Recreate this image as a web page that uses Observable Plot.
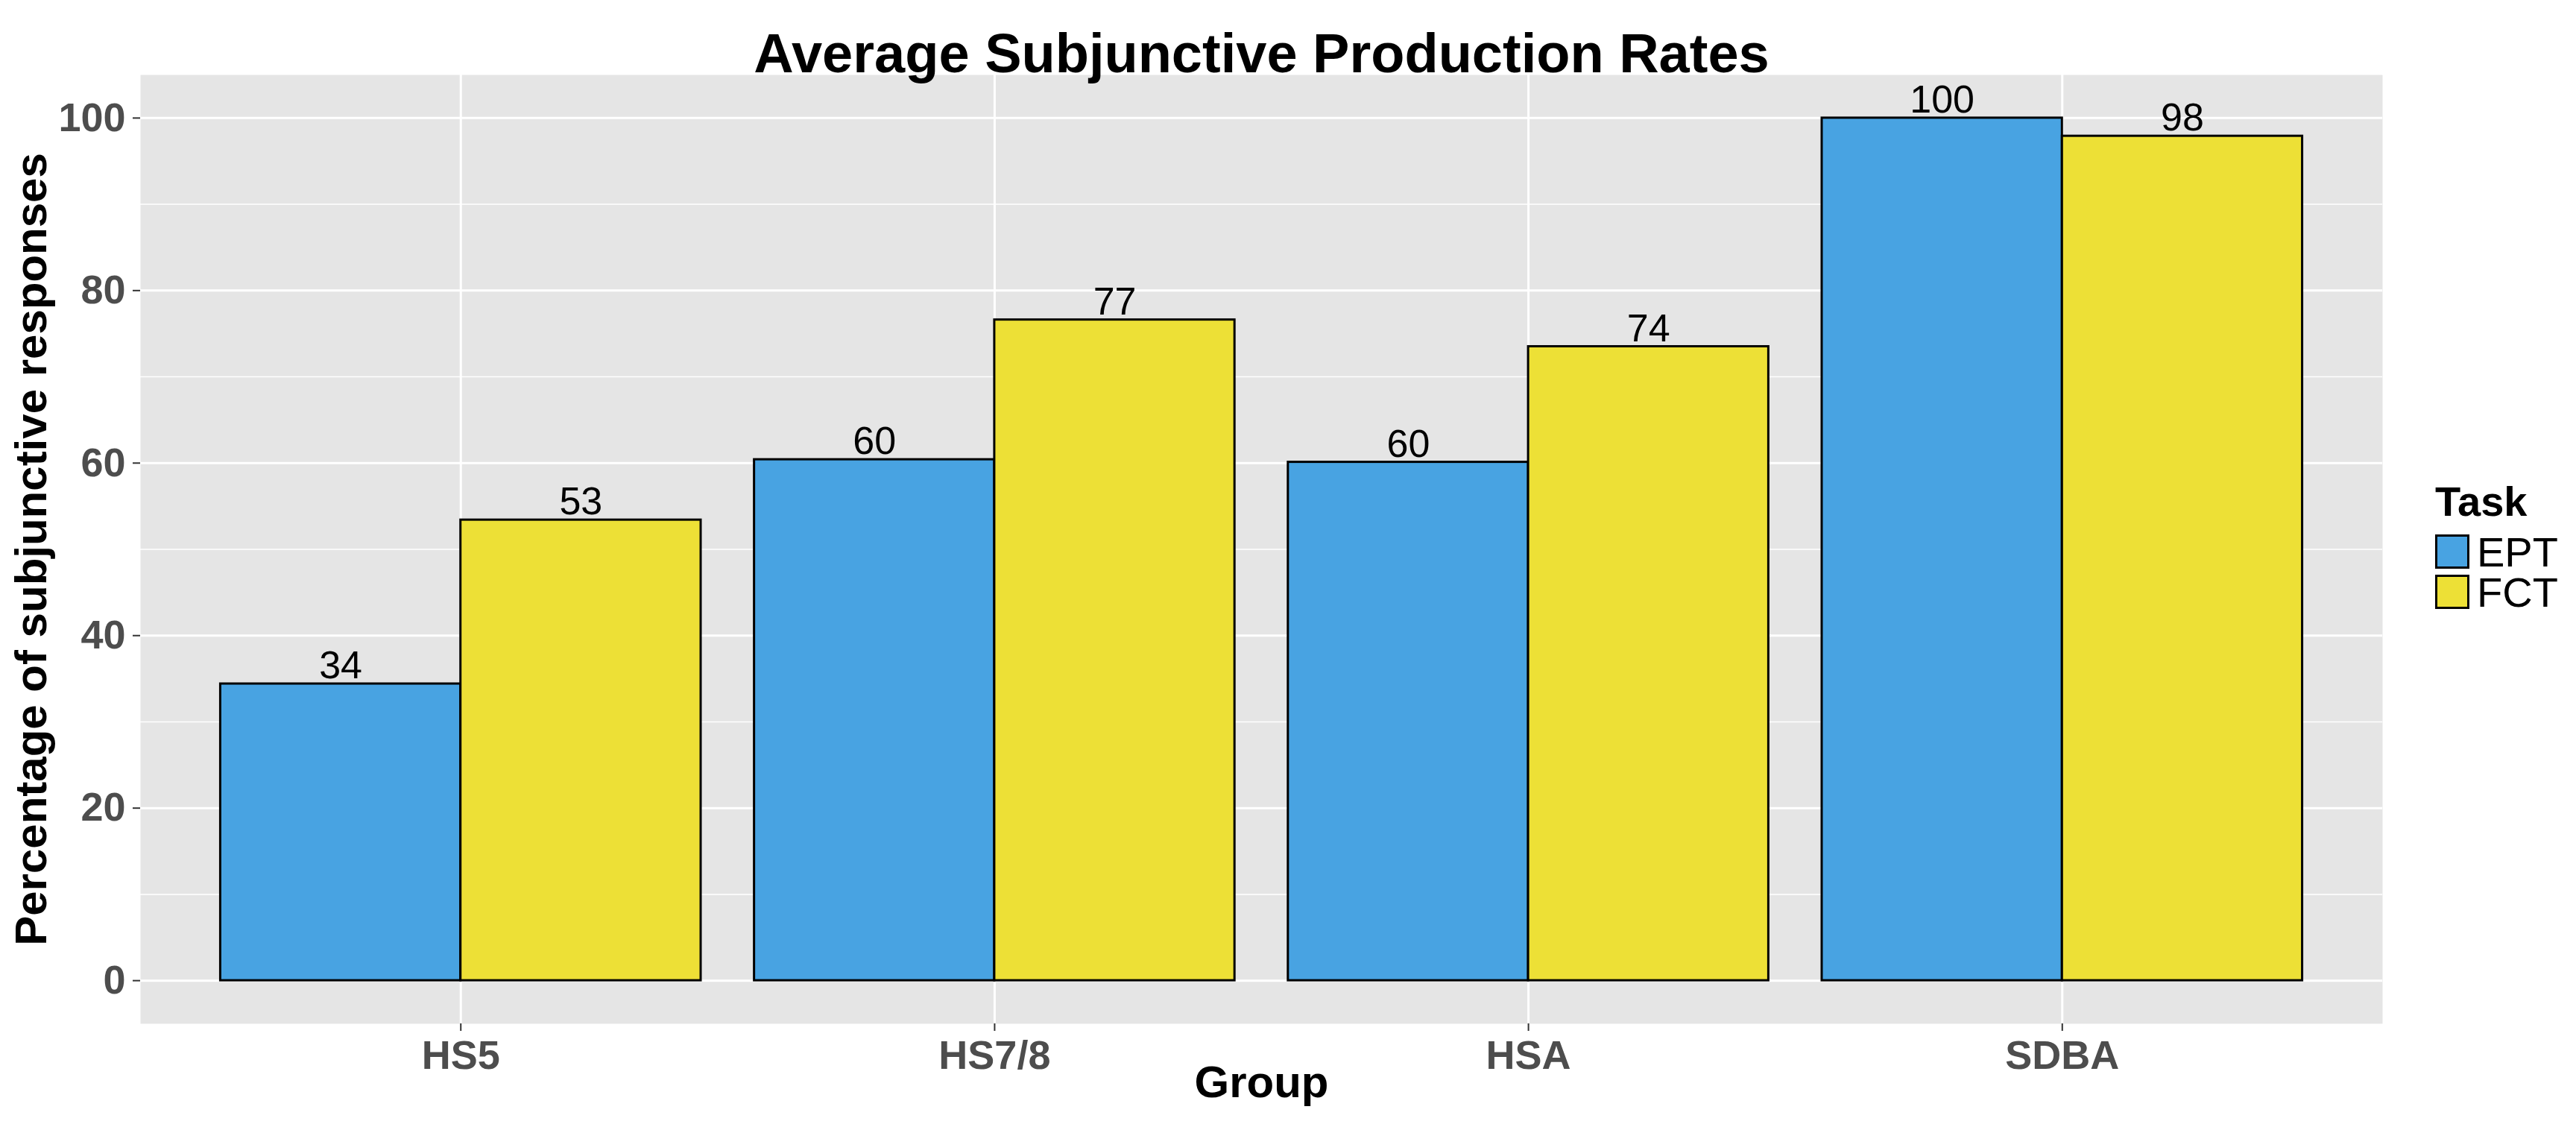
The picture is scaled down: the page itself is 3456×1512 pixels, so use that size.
<!DOCTYPE html>
<html>
<head>
<meta charset="utf-8">
<script src="https://cdn.jsdelivr.net/npm/d3@7"></script>
<script src="https://cdn.jsdelivr.net/npm/@observablehq/plot@0.6"></script>
<style>
  body { margin: 0; background: #fff; font-family: "Liberation Sans", Arial, sans-serif; }
  #wrap { position: relative; width: 3456px; height: 1512px; }
  #legend { position: absolute; left: 3267px; top: 640px; font-size: 56px; }
  #legend .t { font-weight: bold; margin-bottom: 8px; }
  #legend .row { display: flex; align-items: center; height: 54px; }
  #legend .sw { width: 46px; height: 46px; border: 3px solid #000; box-sizing: border-box; margin-right: 10px; }
</style>
</head>
<body>
<div id="wrap">
  <div id="chart"></div>
  <div id="legend"></div>
</div>
<script>
const groups = ["HS5", "HS7/8", "HSA", "SDBA"];
const tasks = ["EPT", "FCT"];
const ept = [34.4, 60.4, 60.1, 100];
const fct = [53.4, 76.6, 73.5, 97.9];
const colors = ["#48a3e2", "#ede036"];

const rows = [];
groups.forEach((g, i) => {
  rows.push({group: g, task: "EPT", value: ept[i], x1: i + 1 - 0.45, x2: i + 1});
  rows.push({group: g, task: "FCT", value: fct[i], x1: i + 1, x2: i + 1.45});
});

const chart = Plot.plot({
  width: 3456,
  height: 1512,
  marginTop: 100,
  marginBottom: 139,
  marginLeft: 188,
  marginRight: 260,
  style: {fontFamily: "Liberation Sans, Arial, sans-serif", background: "#fff"},
  x: {domain: [0.4, 4.6], ticks: [1, 2, 3, 4], tickFormat: d => groups[d - 1]},
  y: {domain: [-5, 105], ticks: [0, 20, 40, 60, 80, 100]},
  color: {domain: tasks, range: colors},
  marks: [
    Plot.frame({fill: "#e5e5e5", stroke: null}),
    Plot.ruleY([10, 30, 50, 70, 90], {stroke: "#fff", strokeWidth: 1.5}),
    Plot.ruleY([0, 20, 40, 60, 80, 100], {stroke: "#fff", strokeWidth: 3}),
    Plot.ruleX([1, 2, 3, 4], {stroke: "#fff", strokeWidth: 3}),
    Plot.rectY(rows, {x1: "x1", x2: "x2", y1: 0, y2: "value", fill: "task", stroke: "#000", strokeWidth: 3}),
    Plot.text(rows, {x: d => (d.x1 + d.x2) / 2, y: "value", text: d => String(Math.round(d.value)),
      dy: -24, fontSize: 52, fill: "#000"}),
    Plot.axisX({ticks: [1, 2, 3, 4], tickFormat: d => groups[d - 1], tickSize: 10, tickPadding: 12,
      fontSize: 54, fontWeight: "bold", fill: "#4d4d4d", stroke: "#333", strokeWidth: 2, label: null}),
    Plot.axisY({ticks: [0, 20, 40, 60, 80, 100], tickSize: 10, tickPadding: 10,
      fontSize: 54, fontWeight: "bold", fill: "#4d4d4d", stroke: "#333", strokeWidth: 2, label: null}),
    Plot.text(["Group"], {frameAnchor: "bottom", dy: 98, fontSize: 60, fontWeight: "bold", fill: "#000"}),
    Plot.text(["Percentage of subjunctive responses"], {frameAnchor: "left", dx: -146, rotate: -90,
      textAnchor: "middle", fontSize: 60, fontWeight: "bold", fill: "#000"}),
    Plot.text(["Average Subjunctive Production Rates"], {frameAnchor: "top", dy: -56,
      fontSize: 74, fontWeight: "bold", fill: "#000"})
  ]
});
document.getElementById("chart").append(chart);

const legend = document.getElementById("legend");
legend.innerHTML = `<div class="t">Task</div>` + tasks.map((t, i) =>
  `<div class="row"><div class="sw" style="background:${colors[i]}"></div>${t}</div>`).join("");
</script>
</body>
</html>
